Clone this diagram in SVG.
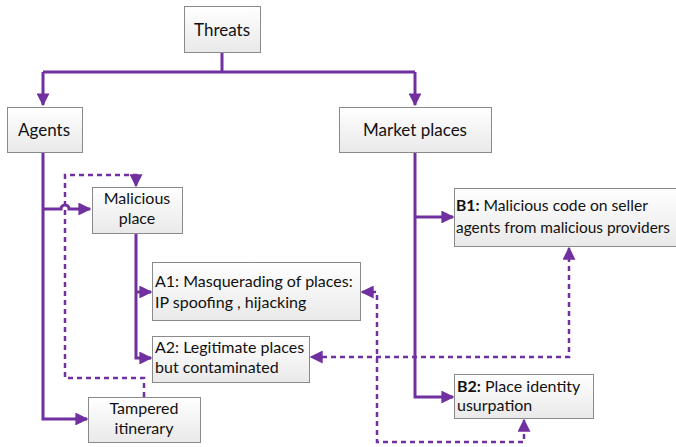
<svg xmlns="http://www.w3.org/2000/svg" width="676" height="447" viewBox="0 0 676 447">
  <defs>
    <linearGradient id="boxFill" x1="0" y1="0" x2="0" y2="1">
      <stop offset="0" stop-color="#ffffff"/>
      <stop offset="1" stop-color="#e9e9e9"/>
    </linearGradient>
    <marker id="arrow" viewBox="0 0 10 10" refX="9" refY="5" markerWidth="4.3" markerHeight="4.3" markerUnits="strokeWidth" orient="auto-start-reverse">
      <path d="M0,0 L10,5 L0,10 Z" fill="#7030A0"/>
    </marker>
    <marker id="arrowD" viewBox="0 0 10 10" refX="9" refY="5" markerWidth="5.2" markerHeight="5.2" markerUnits="strokeWidth" orient="auto-start-reverse">
      <path d="M0,0 L10,5 L0,10 Z" fill="#7030A0"/>
    </marker>
  </defs>
  <style>
    .box { fill: url(#boxFill); stroke: #8a8a8a; stroke-width: 1; }
    .t { font-family: Lato, "Liberation Sans", sans-serif; font-size: 16px; fill: #111; }
    .big { font-size: 17px; }
    .c { text-anchor: middle; }
    .b { font-weight: bold; }
    .solid { fill: none; stroke: #7030A0; stroke-width: 3; }
    .dash { fill: none; stroke: #7030A0; stroke-width: 2.5; stroke-dasharray: 5 4; }
  </style>

  <g id="connectors">
    <!-- tree from Threats -->
    <path class="solid" d="M222,52 V72"/>
    <path class="solid" d="M43,72 H415"/>
    <path class="solid" d="M43,72 V105" marker-end="url(#arrow)"/>
    <path class="solid" d="M415,72 V105" marker-end="url(#arrow)"/>
    <!-- Agents branch -->
    <path class="solid" d="M43,152 V419 H87" marker-end="url(#arrow)"/>
    <path class="solid" d="M43,209 H61 A4,4 0 0 1 69,209 H90" marker-end="url(#arrow)"/>
    <!-- Malicious place branch -->
    <path class="solid" d="M136,233 V358 H151" marker-end="url(#arrow)"/>
    <path class="solid" d="M136,292 H151" marker-end="url(#arrow)"/>
    <!-- Market places branch -->
    <path class="solid" d="M415,152 V397 H453" marker-end="url(#arrow)"/>
    <path class="solid" d="M415,217 H453" marker-end="url(#arrow)"/>
    <!-- dashed relations -->
    <path class="dash" d="M144,397 V378 H65 V175 H136 V186" marker-end="url(#arrowD)"/>
    <path class="dash" d="M569,248 V357 H311" marker-start="url(#arrowD)" marker-end="url(#arrowD)"/>
    <path class="dash" d="M362,292 H377 V442 H524 V420" marker-start="url(#arrowD)" marker-end="url(#arrowD)"/>
  </g>

  <g id="threats">
    <rect class="box" x="184.5" y="6.5" width="76" height="46"/>
    <text class="t big c" x="222" y="36">Threats</text>
  </g>
  <g id="agents">
    <rect class="box" x="7.5" y="107.5" width="75" height="45"/>
    <text class="t big c" x="44" y="136">Agents</text>
  </g>
  <g id="market-places">
    <rect class="box" x="339.5" y="107.5" width="152" height="45"/>
    <text class="t big c" x="415" y="136">Market places</text>
  </g>
  <g id="malicious-place">
    <rect class="box" x="92.5" y="187.5" width="90" height="46"/>
    <text class="t c" x="137" y="204">Malicious</text>
    <text class="t c" x="137" y="224">place</text>
  </g>
  <g id="a1">
    <rect class="box" x="152.5" y="262.5" width="208" height="58"/>
    <text class="t" x="155" y="287">A1: Masquerading of places:</text>
    <text class="t" x="155" y="308">IP spoofing , hijacking</text>
  </g>
  <g id="a2">
    <rect class="box" x="152.5" y="336.5" width="157" height="46"/>
    <text class="t" x="155" y="353">A2: Legitimate places</text>
    <text class="t" x="155" y="373">but contaminated</text>
  </g>
  <g id="tampered-itinerary">
    <rect class="box" x="88.5" y="397.5" width="112" height="45"/>
    <text class="t c" x="144" y="414">Tampered</text>
    <text class="t c" x="144" y="434">itinerary</text>
  </g>
  <g id="b1">
    <rect class="box" x="454.5" y="188.5" width="240" height="58"/>
    <text class="t" x="456" y="211" textLength="192" lengthAdjust="spacingAndGlyphs"><tspan class="b">B1:</tspan> Malicious code on seller</text>
    <text class="t" x="456" y="233" textLength="214" lengthAdjust="spacingAndGlyphs">agents from malicious providers</text>
  </g>
  <g id="b2">
    <rect class="box" x="454.5" y="374.5" width="139" height="44"/>
    <text class="t" x="457" y="392"><tspan class="b">B2:</tspan> Place identity</text>
    <text class="t" x="457" y="411">usurpation</text>
  </g>
</svg>
